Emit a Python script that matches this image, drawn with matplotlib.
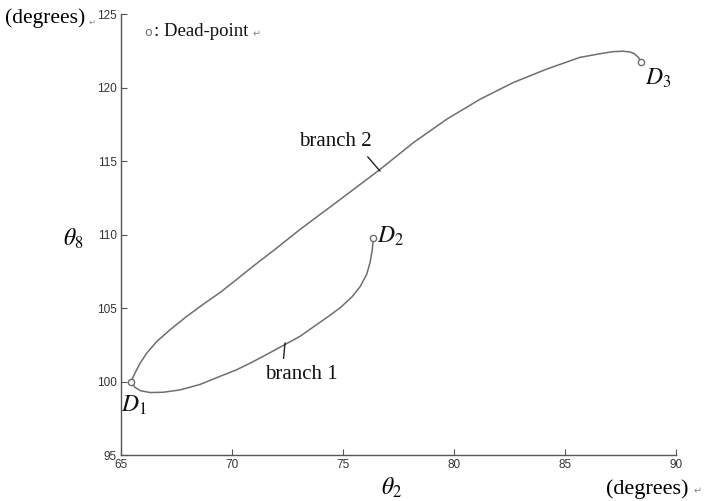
import matplotlib.pyplot as plt

plt.rcParams['mathtext.fontset'] = 'stix'

# branch 2 (upper curve), from D1 to D3
branch2_theta2 = [65.45, 65.63, 65.86, 66.16, 66.61, 67.21, 67.96, 68.70, 69.46, 70.20,
                  70.95, 71.98, 73.06, 74.80, 76.67, 78.17, 79.67, 81.17, 82.67, 84.17,
                  85.67, 86.58, 87.17, 87.60, 87.93, 88.12, 88.27, 88.38, 88.42]
branch2_theta8 = [100.0, 100.57, 101.25, 101.93, 102.72, 103.52, 104.43, 105.25, 106.05, 106.93,
                  107.84, 109.04, 110.34, 112.30, 114.43, 116.25, 117.84, 119.20, 120.34, 121.25,
                  122.05, 122.30, 122.44, 122.47, 122.42, 122.30, 122.10, 121.90, 121.76]

# branch 1 (lower curve), from D1 to D2
branch1_theta2 = [65.45, 65.63, 65.86, 66.31, 66.91, 67.66, 68.56, 69.46, 70.21, 70.95,
                  71.71, 73.06, 74.41, 74.90, 75.40, 75.77, 76.07, 76.22, 76.32, 76.37]
branch1_theta8 = [100.0, 99.61, 99.38, 99.25, 99.27, 99.43, 99.80, 100.35, 100.80, 101.35,
                  101.96, 103.07, 104.50, 105.05, 105.75, 106.45, 107.30, 108.10, 108.98, 109.74]

# dead points
dead_theta2 = [65.45, 76.37, 88.42]
dead_theta8 = [100.0, 109.74, 121.76]
dead_labels = [r'$D_1$', r'$D_2$', r'$D_3$']

x_ticks = [65, 70, 75, 80, 85, 90]
y_ticks = [95, 100, 105, 110, 115, 120, 125]

LINE = '#6e6e6e'
AXC = '#555555'
SERIF = 'Liberation Serif'

fig = plt.figure(figsize=(7.18, 5.01), dpi=100)
ax = fig.add_axes([0.1685, 0.0918, 0.773, 0.8802])

ax.plot(branch2_theta2, branch2_theta8, color=LINE, lw=1.1, solid_joinstyle='round')
ax.plot(branch1_theta2, branch1_theta8, color=LINE, lw=1.1, solid_joinstyle='round')
ax.plot(dead_theta2, dead_theta8, 'o', ms=4.5, mfc='white', mec=LINE, mew=1.0, zorder=3)

# dead point labels (offsets in pixels)
label_offsets = [(-10, -11, 'left', 'top'), (4, 2, 'left', 'center'), (4, -4, 'left', 'top')]
for x, y, lab, (dx, dy, ha, va) in zip(dead_theta2, dead_theta8, dead_labels, label_offsets):
    ax.annotate(lab, (x, y), xytext=(dx, dy), textcoords='offset pixels',
                ha=ha, va=va, fontsize=17, color='#111111')

# branch labels with leader lines
ax.annotate('branch 2', xy=(76.67, 114.31), xytext=(74.64, 116.34),
            ha='center', va='center', fontsize=15, family=SERIF, color='#111111',
            arrowprops=dict(arrowstyle='-', color='#222222', lw=1.0,
                            relpos=(0.88, 0.0), shrinkA=3, shrinkB=0))
ax.annotate('branch 1', xy=(72.39, 102.63), xytext=(73.11, 100.45),
            ha='center', va='center', fontsize=15, family=SERIF, color='#111111',
            arrowprops=dict(arrowstyle='-', color='#222222', lw=1.0,
                            relpos=(0.25, 1.0), shrinkA=3, shrinkB=0))

ax.set_xlim(65, 90)
ax.set_ylim(95, 125)
ax.set_xticks(x_ticks)
ax.set_yticks(y_ticks)
for s in ['top', 'right']:
    ax.spines[s].set_visible(False)
for s in ['left', 'bottom']:
    ax.spines[s].set_color(AXC)
    ax.spines[s].set_linewidth(1.0)
ax.tick_params(direction='in', length=4, width=0.8, color=AXC, labelcolor='#333333',
               labelsize=8.5, pad=3)
for lab in ax.get_xticklabels() + ax.get_yticklabels():
    lab.set_family('Liberation Sans')

# legend-like note
fig.text(148 / 718, 1 - 32 / 501, 'o', fontsize=9, color=LINE, ha='center', va='center')
fig.text(154 / 718, 1 - 32 / 501, ': Dead-point', fontsize=13.5, family=SERIF,
         ha='left', va='center', color='#111111')
fig.text(253 / 718, 1 - 34 / 501, '↵', fontsize=7, color='#888888', ha='left', va='center')

# axis labels
fig.text(73 / 718, 1 - 239 / 501, r'$\theta_8$', fontsize=17, ha='center', va='center')
fig.text(392 / 718, 1 - 488 / 501, r'$\theta_2$', fontsize=17, ha='center', va='center')
fig.text(5 / 718, 1 - 18 / 501, '(degrees)', fontsize=15.5, family=SERIF, ha='left', va='center')
fig.text(89 / 718, 1 - 22 / 501, '↵', fontsize=6, color='#888888', ha='left', va='center')
fig.text(606 / 718, 1 - 489 / 501, '(degrees)', fontsize=16, family=SERIF, ha='left', va='center')
fig.text(694 / 718, 1 - 491 / 501, '↵', fontsize=7, color='#888888', ha='left', va='center')

fig.savefig('out.png', dpi=100)
